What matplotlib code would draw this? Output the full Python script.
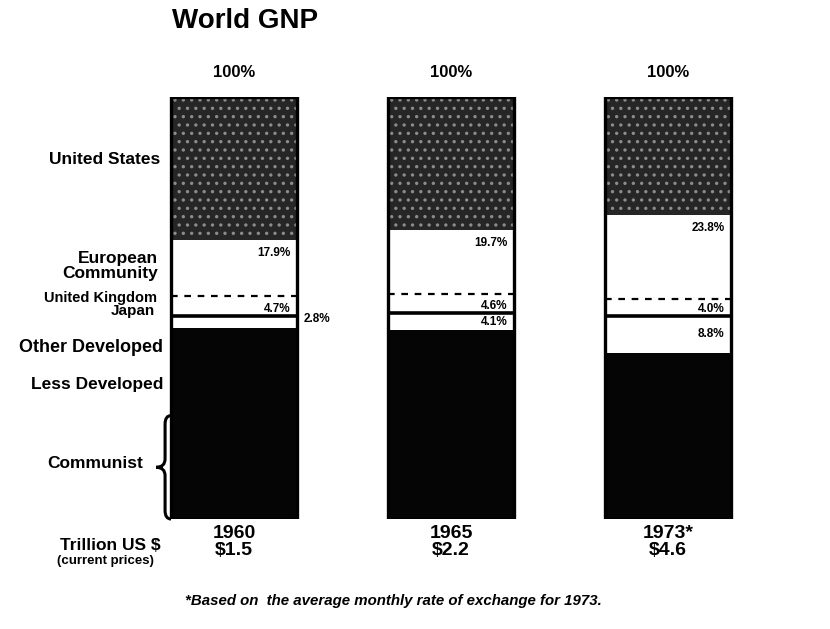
import matplotlib
matplotlib.use("Agg")
import matplotlib.pyplot as plt
from matplotlib.path import Path
from matplotlib.patches import PathPatch
import numpy as np

plt.rcParams['font.family'] = ['Liberation Sans', 'DejaVu Sans']
plt.rcParams['font.weight'] = 'bold'
plt.rcParams['hatch.linewidth'] = 1.2

# data (% of world GNP), EC figure includes the UK
years = ['1960', '1965', '1973*']
gnp = ['$1.5', '$2.2', '$4.6']
us = [34.0, 31.5, 28.0]
ec = [17.9, 19.7, 23.8]
uk = [4.7, 4.6, 4.0]
japan = [2.8, 4.1, 8.8]
other_dev = [9.0, 9.2, 8.5]
less_dev = [11.8, 11.5, 10.9]
communist = [24.5, 24.0, 20.0]

us = np.array(us); ec = np.array(ec); uk = np.array(uk)
japan = np.array(japan); other_dev = np.array(other_dev)
less_dev = np.array(less_dev); communist = np.array(communist)
ec_rest = ec - uk

fig = plt.figure(figsize=(8.3, 6.29), dpi=100)
W, H = 830.0, 629.0
ax = fig.add_axes([0, 1 - 519 / H, 1, (519 - 97) / H])
ax.set_xlim(-234 / 217, (W - 234) / 217)
ax.set_ylim(0, 100)
ax.axis('off')

x = np.arange(len(years))
w = 0.58
dark = '#050505'

# stack, bottom up
b = np.zeros(3)
ax.bar(x, communist, w, bottom=b, color=dark, lw=0)
b += communist
ax.bar(x, less_dev, w, bottom=b, color=dark, lw=0)
b += less_dev
ax.bar(x, other_dev, w, bottom=b, color=dark, lw=0)
b += other_dev
jap_bot = b.copy()
ax.bar(x, japan, w, bottom=b, color='white', lw=0)
b += japan
uk_bot = b.copy()
ax.bar(x, uk, w, bottom=b, color='white', lw=0)
b += uk
ec_bot = b.copy()
ax.bar(x, ec_rest, w, bottom=b, color='white', lw=0)
b += ec_rest
us_bot = b.copy()
ax.bar(x, us, w, bottom=b, color='#262626', edgecolor='#8c8c8c', hatch='..', lw=0)
b += us

# outline and dividers
ax.bar(x, b, w, fill=False, edgecolor='black', lw=2.4)
for i in range(3):
    ax.hlines(uk_bot[i], x[i] - w / 2, x[i] + w / 2, color='black', lw=2.6)
    ax.hlines(ec_bot[i], x[i] - w / 2, x[i] + w / 2, color='black', lw=1.6,
              linestyles=(0, (3, 3)))
    ax.text(x[i], 105.7, '100%', ha='center', va='center', fontsize=12)
    ax.text(x[i], -3.4, years[i], ha='center', va='center', fontsize=14)
    ax.text(x[i], -7.5, gnp[i], ha='center', va='center', fontsize=14)
    r = x[i] + w / 2 - 0.03
    ax.text(r, us_bot[i] - 3.0, '%.1f%%' % ec[i],
            ha='right', va='center', fontsize=8.5)
    ax.text(r, uk_bot[i] + 1.6, '%.1f%%' % uk[i], ha='right', va='center', fontsize=8.5)
    if japan[i] > 3.5:
        ax.text(r, jap_bot[i] + japan[i] / 2, '%.1f%%' % japan[i],
                ha='right', va='center', fontsize=8.5)
    else:
        ax.text(x[i] + w / 2 + 0.03, jap_bot[i] + japan[i] / 2 + 0.6, '%.1f%%' % japan[i],
                ha='left', va='center', fontsize=8.5)

# brace for communist share, first bar
xl = x[0] - w / 2
xv = xl - 6 / 217
xt = xl - 15 / 217
top, bot = communist[0], 0.0
mid = (top + bot) / 2
d = 2.0
verts = [(xl, top), (xv, top), (xv, top - d), (xv, mid + d), (xv, mid), (xt, mid),
         (xv, mid), (xv, mid - d), (xv, bot + d), (xv, bot), (xl, bot)]
codes = [Path.MOVETO, Path.CURVE3, Path.CURVE3, Path.LINETO, Path.CURVE3, Path.CURVE3,
         Path.CURVE3, Path.CURVE3, Path.LINETO, Path.CURVE3, Path.CURVE3]
ax.add_patch(PathPatch(Path(verts, codes), fill=False, lw=2.2, clip_on=False))

# row labels on the left
lab_x = 160 / W
def lab(y_px, s, size, xx=lab_x, ha='right'):
    fig.text(xx, 1 - y_px / H, s, ha=ha, va='center', fontsize=size, linespacing=1.05)

lab(160, 'United States', 12.5)
lab(266, 'European\nCommunity', 12.5, xx=158 / W)
fig.texts[-1].set_multialignment('right')
lab(298, 'United Kingdom', 10.5, xx=157 / W)
lab(311, 'Japan', 11, xx=155 / W)
lab(347, 'Other Developed', 13, xx=163 / W)
lab(385, 'Less Developed', 12.5, xx=163 / W)
lab(464, 'Communist', 12.5, xx=143 / W)

fig.text(172 / W, 1 - 21 / H, 'World GNP', ha='left', va='center', fontsize=20)
fig.text(110 / W, 1 - 546 / H, 'Trillion US $', ha='center', va='center', fontsize=12.5)
fig.text(105 / W, 1 - 561 / H, '(current prices)', ha='center', va='center', fontsize=9.5)
fig.text(185 / W, 1 - 601 / H, '*Based on  the average monthly rate of exchange for 1973.',
         ha='left', va='center', fontsize=10.8, style='italic')

fig.savefig('out.png', dpi=100)
